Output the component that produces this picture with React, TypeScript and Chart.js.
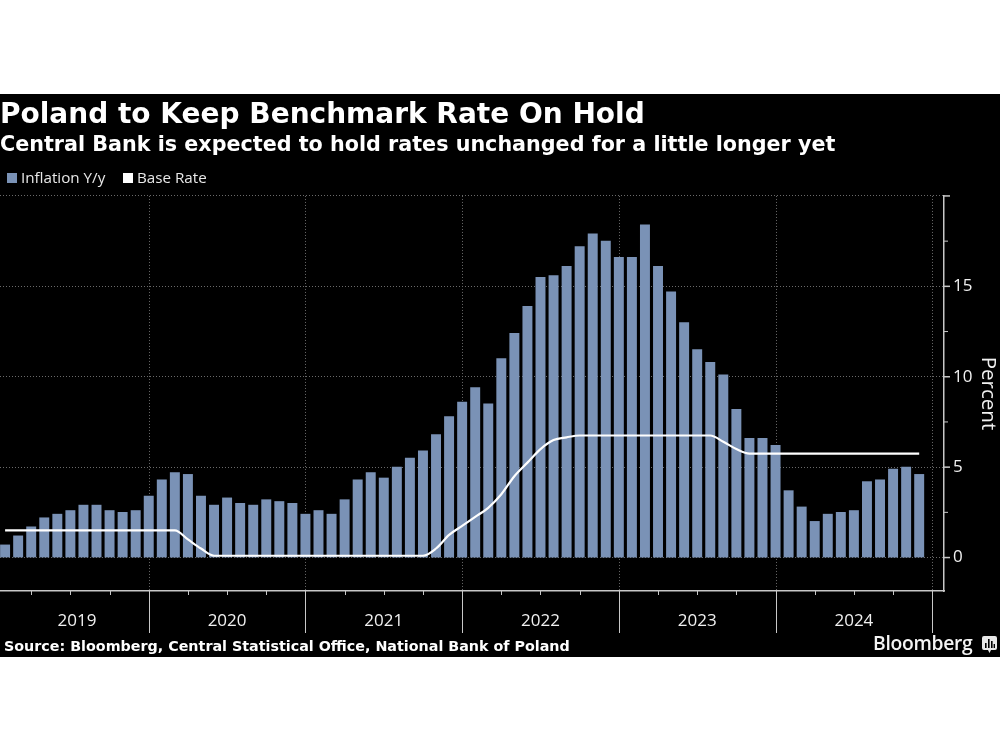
import React, { useEffect, useRef } from "react";
import { Chart, registerables } from "chart.js";

Chart.register(...registerables);

const titleText = "Poland to Keep Benchmark Rate On Hold";
const subtitleText = "Central Bank is expected to hold rates unchanged for a little longer yet";
const sourceText = "Source: Bloomberg, Central Statistical Office, National Bank of Poland";
const seriesNames = ["Inflation Y/y", "Base Rate"];

const inflation = [
  0.7, 1.2, 1.7, 2.2, 2.4, 2.6, 2.9, 2.9, 2.6, 2.5, 2.6, 3.4,
  4.3, 4.7, 4.6, 3.4, 2.9, 3.3, 3.0, 2.9, 3.2, 3.1, 3.0, 2.4,
  2.6, 2.4, 3.2, 4.3, 4.7, 4.4, 5.0, 5.5, 5.9, 6.8, 7.8, 8.6,
  9.4, 8.5, 11.0, 12.4, 13.9, 15.5, 15.6, 16.1, 17.2, 17.9, 17.5, 16.6,
  16.6, 18.4, 16.1, 14.7, 13.0, 11.5, 10.8, 10.1, 8.2, 6.6, 6.6, 6.2,
  3.7, 2.8, 2.0, 2.4, 2.5, 2.6, 4.2, 4.3, 4.9, 5.0, 4.6,
];
const baseRate = [
  1.5, 1.5, 1.5, 1.5, 1.5, 1.5, 1.5, 1.5, 1.5, 1.5, 1.5, 1.5,
  1.5, 1.5, 1.0, 0.5, 0.1, 0.1, 0.1, 0.1, 0.1, 0.1, 0.1, 0.1,
  0.1, 0.1, 0.1, 0.1, 0.1, 0.1, 0.1, 0.1, 0.1, 0.5, 1.25, 1.75,
  2.25, 2.75, 3.5, 4.5, 5.25, 6.0, 6.5, 6.65, 6.75, 6.75, 6.75, 6.75,
  6.75, 6.75, 6.75, 6.75, 6.75, 6.75, 6.75, 6.4, 6.0, 5.75, 5.75, 5.75,
  5.75, 5.75, 5.75, 5.75, 5.75, 5.75, 5.75, 5.75, 5.75, 5.75, 5.75,
];
const years = ["2019", "2020", "2021", "2022", "2023", "2024"];
const yearLabelPositions = [5.5, 17, 29, 41, 53, 65];
const yearBoundaries = [11, 23, 35, 47, 59, 71];
const quarterTicks = [2, 5, 8, 14, 17, 20, 26, 29, 32, 38, 41, 44, 50, 53, 56, 62, 65, 68];
const yTicks = [0, 2.5, 5, 7.5, 10, 12.5, 15, 17.5, 20];

const AXIS = "#c8c8c8";
const GRID = "#6a6a6a";
const BAR = "#7a92b6";

const axisMarks = {
  id: "axisMarks",
  beforeDatasetsDraw(chart: any) {
    const { ctx, chartArea, scales } = chart;
    ctx.save();
    ctx.strokeStyle = GRID;
    ctx.lineWidth = 1;
    ctx.setLineDash([1, 2]);
    for (const b of yearBoundaries) {
      const x = Math.round(scales.x.getPixelForValue(b)) + 0.5;
      ctx.beginPath();
      ctx.moveTo(x, chartArea.top);
      ctx.lineTo(x, chartArea.bottom);
      ctx.stroke();
    }
    ctx.restore();
  },
  afterDraw(chart: any) {
    const { ctx, chartArea, scales } = chart;
    ctx.save();
    ctx.strokeStyle = AXIS;
    ctx.lineWidth = 1;
    for (const b of yearBoundaries) {
      const x = Math.round(scales.x.getPixelForValue(b)) + 0.5;
      ctx.beginPath();
      ctx.moveTo(x, chartArea.bottom);
      ctx.lineTo(x, chartArea.bottom + 42);
      ctx.stroke();
    }
    for (const q of quarterTicks) {
      const x = Math.round(scales.x.getPixelForValue(q)) + 0.5;
      ctx.beginPath();
      ctx.moveTo(x, chartArea.bottom);
      ctx.lineTo(x, chartArea.bottom + 4);
      ctx.stroke();
    }
    for (const t of yTicks) {
      const y = scales.y.getPixelForValue(t);
      ctx.beginPath();
      ctx.moveTo(chartArea.right, y);
      ctx.lineTo(chartArea.right + (t % 5 === 0 ? 6 : 4), y);
      ctx.lineWidth = t % 5 === 0 ? 1.5 : 1;
      ctx.stroke();
    }
    ctx.restore();
  },
};

export default function App() {
  const ref = useRef<HTMLCanvasElement>(null);
  useEffect(() => {
    const chart = new Chart(ref.current as HTMLCanvasElement, {
      type: "bar",
      plugins: [axisMarks],
      data: {
        datasets: [
          {
            type: "line",
            label: seriesNames[1],
            data: baseRate.map((y, x) => ({ x, y })),
            borderColor: "#ffffff",
            backgroundColor: "#ffffff",
            borderWidth: 2.2,
            pointRadius: 0,
            cubicInterpolationMode: "monotone",
            order: 1,
          },
          {
            type: "bar",
            label: seriesNames[0],
            data: inflation.map((y, x) => ({ x, y })),
            backgroundColor: BAR,
            borderWidth: 0,
            barThickness: 9.3,
            order: 2,
          },
        ],
      } as any,
      options: {
        responsive: false,
        animation: false,
        layout: { padding: 0 },
        plugins: {
          legend: { display: false },
          tooltip: { enabled: false },
          title: {
            display: true,
            text: titleText,
            align: "start",
            color: "#ffffff",
            font: { family: "DejaVu Sans", size: 28, weight: "bold", lineHeight: 1.2 },
            padding: { top: 5, bottom: 0 },
          },
          subtitle: {
            display: true,
            text: subtitleText,
            align: "start",
            color: "#ffffff",
            font: { family: "DejaVu Sans", size: 20.7, weight: "bold", lineHeight: 1.2 },
            padding: { top: 1, bottom: 37.5 },
          },
        },
        scales: {
          x: {
            type: "linear",
            min: -0.39,
            max: 71.9,
            offset: false,
            afterBuildTicks: (s: any) => {
              s.ticks = yearLabelPositions.map((value) => ({ value }));
            },
            afterFit: (s: any) => {
              s.height = 66;
            },
            grid: { display: false, drawTicks: false },
            border: { display: true, color: AXIS, width: 1.5 },
            ticks: {
              autoSkip: false,
              maxRotation: 0,
              minRotation: 0,
              padding: 20,
              color: "#f0f0f0",
              font: { family: "Open Sans", size: 17 },
              callback: (v: any) => years[yearLabelPositions.indexOf(v)] ?? "",
            },
          },
          y: {
            type: "linear",
            position: "right",
            min: -1.85,
            max: 20,
            afterBuildTicks: (s: any) => {
              s.ticks = yTicks.map((value) => ({ value }));
            },
            afterFit: (s: any) => {
              s.width = 56;
            },
            grid: {
              drawTicks: false,
              color: (c: any) => (c.tick && c.tick.value % 5 === 0 ? GRID : "transparent"),
              lineWidth: 1,
            },
            border: { display: true, color: AXIS, width: 1.5, dash: [1, 2] },
            ticks: {
              padding: 9,
              color: "#f0f0f0",
              font: { family: "Open Sans", size: 17 },
              callback: (v: any) => (v % 5 === 0 && v < 20 ? String(v) : ""),
            },
            title: {
              display: true,
              text: "Percent",
              color: "#f0f0f0",
              font: { family: "Open Sans", size: 20.5 },
              padding: { top: 0, bottom: 2 },
            },
          },
        },
      },
    } as any);
    return () => chart.destroy();
  }, []);

  const legendText: React.CSSProperties = {
    position: "absolute",
    top: 167,
    color: "#e8e8e8",
    font: "15.2px 'Open Sans'",
    lineHeight: "20px",
    whiteSpace: "nowrap",
  };
  const swatch = (left: number, background: string): React.CSSProperties => ({
    position: "absolute",
    left,
    top: 173,
    width: 10,
    height: 10,
    background,
  });

  return (
    <div style={{ position: "absolute", left: 0, top: 0, width: 1000, height: 750, background: "#fff", overflow: "hidden" }}>
      <div style={{ position: "absolute", left: 0, top: 94, width: 1000, height: 563, background: "#000" }}>
        <canvas ref={ref} width={1000} height={563} style={{ display: "block" }} />
      </div>
      <div style={swatch(7, BAR)} />
      <div style={{ ...legendText, left: 21 }}>{seriesNames[0]}</div>
      <div style={swatch(123, "#ffffff")} />
      <div style={{ ...legendText, left: 137 }}>{seriesNames[1]}</div>
      <div
        style={{
          position: "absolute",
          left: 4,
          top: 637,
          color: "#fff",
          font: "bold 14.3px 'DejaVu Sans'",
          lineHeight: "18px",
          whiteSpace: "nowrap",
        }}
      >
        {sourceText}
      </div>
      <div
        style={{
          position: "absolute",
          left: 873,
          top: 629,
          color: "#f4f4f4",
          font: "600 19.3px 'Open Sans'",
          lineHeight: "28px",
          letterSpacing: "-0.3px",
          whiteSpace: "nowrap",
        }}
      >
        Bloomberg
      </div>
      <svg style={{ position: "absolute", left: 982, top: 636 }} width={15} height={17} viewBox="0 0 15 17">
        <path d="M2 0h11a2 2 0 0 1 2 2v10a2 2 0 0 1-2 2h-4l-1.5 3-1.5-3H2a2 2 0 0 1-2-2V2a2 2 0 0 1 2-2z" fill="#e8e8e8" />
        <rect x="3" y="7" width="1.6" height="5" fill="#000" />
        <rect x="6" y="3" width="1.6" height="9" fill="#000" />
        <rect x="9" y="5" width="1.6" height="7" fill="#000" />
        <rect x="11.6" y="8" width="1.4" height="4" fill="#000" />
      </svg>
    </div>
  );
}
